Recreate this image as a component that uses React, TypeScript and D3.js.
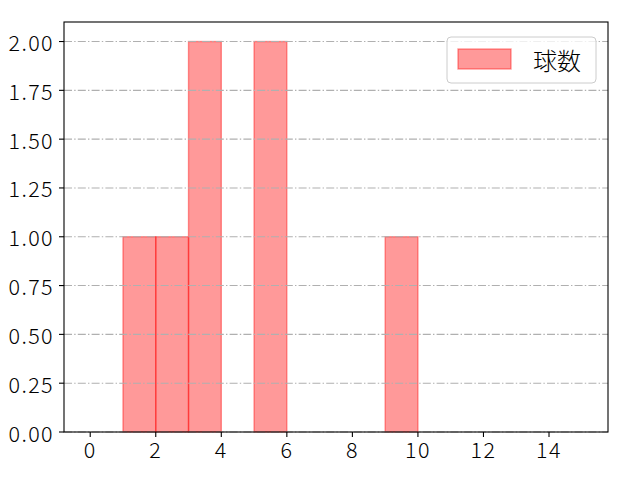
import * as d3 from "d3";

const W = 640;
const H = 480;
const M = { top: 22, right: 32, bottom: 48, left: 64 };

// histogram bins (left edge, right edge) and counts
const binLefts = [1, 2, 3, 5, 9];
const binRights = [2, 3, 4, 6, 10];
const counts = [1, 1, 2, 2, 1];

const xTicks = [0, 2, 4, 6, 8, 10, 12, 14];
const yTicks = [0, 0.25, 0.5, 0.75, 1.0, 1.25, 1.5, 1.75, 2.0];
const seriesName = "球数";

const FONT = "'Noto Sans CJK JP', 'Noto Sans', sans-serif";

export default function App() {
  const x = d3.scaleLinear().domain([-0.8, 15.8]).range([M.left, W - M.right]);
  const y = d3.scaleLinear().domain([0, 2.1]).range([H - M.bottom, M.top]);
  const fmt = d3.format(".2f");

  const bars = counts.map((c, i) => ({ x0: binLefts[i], x1: binRights[i], c }));

  return (
    <svg
      width={W}
      height={H}
      style={{ position: "absolute", left: 0, top: 0, background: "#fff" }}
      fontFamily={FONT}
      fontWeight={300}
    >
      <rect x={0} y={0} width={W} height={H} fill="#fff" />

      {/* bars */}
      {bars.map((b, i) => (
        <rect
          key={i}
          x={x(b.x0)}
          y={y(b.c)}
          width={x(b.x1) - x(b.x0)}
          height={y(0) - y(b.c)}
          fill="#ff0000"
          fillOpacity={0.4}
          stroke="#ff0000"
          strokeOpacity={0.4}
          strokeWidth={1.4}
        />
      ))}

      {/* horizontal grid */}
      {yTicks.map((t) => (
        <line
          key={`g${t}`}
          x1={M.left}
          x2={W - M.right}
          y1={y(t)}
          y2={y(t)}
          stroke="#b0b0b0"
          strokeWidth={1.1}
          strokeDasharray="8 2.2 1.4 2.2"
        />
      ))}

      {/* frame */}
      <rect
        x={M.left}
        y={M.top}
        width={W - M.left - M.right}
        height={H - M.top - M.bottom}
        fill="none"
        stroke="#000"
        strokeWidth={1.1}
      />

      {/* y axis */}
      {yTicks.map((t) => (
        <g key={`y${t}`}>
          <line x1={M.left - 5} x2={M.left} y1={y(t)} y2={y(t)} stroke="#000" strokeWidth={1.1} />
          <text
            x={M.left - 10}
            y={y(t)}
            textAnchor="end"
            dominantBaseline="central"
            fontSize={21.5}
            letterSpacing={1.4}
            fill="#000"
          >
            {fmt(t)}
          </text>
        </g>
      ))}

      {/* x axis */}
      {xTicks.map((t) => (
        <g key={`x${t}`}>
          <line
            x1={x(t)}
            x2={x(t)}
            y1={H - M.bottom}
            y2={H - M.bottom + 5}
            stroke="#000"
            strokeWidth={1.1}
          />
          <text
            x={x(t)}
            y={H - M.bottom + 26}
            textAnchor="middle"
            fontSize={21.5}
            letterSpacing={1.4}
            fill="#000"
          >
            {t}
          </text>
        </g>
      ))}

      {/* legend */}
      <g>
        <rect
          x={447}
          y={37}
          width={149}
          height={46}
          rx={4}
          fill="#fff"
          fillOpacity={0.8}
          stroke="#cccccc"
          strokeWidth={1}
        />
        <rect
          x={458}
          y={49}
          width={53}
          height={20}
          fill="#ff0000"
          fillOpacity={0.4}
          stroke="#ff0000"
          strokeOpacity={0.4}
          strokeWidth={1.4}
        />
        <text x={533} y={59} dominantBaseline="central" fontSize={24} fill="#000">
          {seriesName}
        </text>
      </g>
    </svg>
  );
}
